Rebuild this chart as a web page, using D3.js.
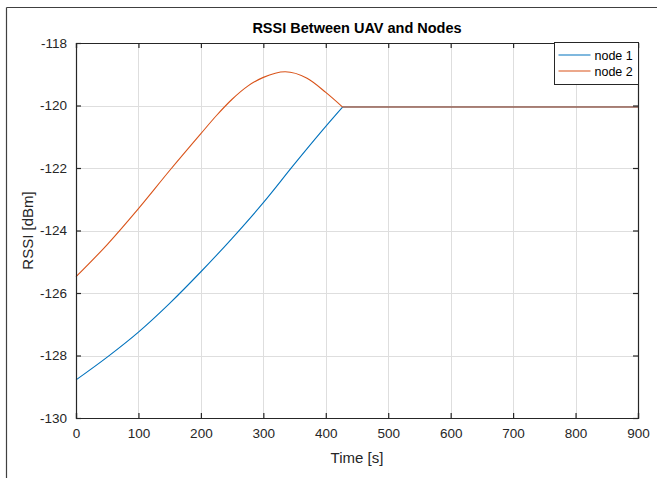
<!DOCTYPE html>
<html>
<head>
<meta charset="utf-8">
<script src="https://cdn.jsdelivr.net/npm/d3@7"></script>
<style>
  body { margin: 0; background: #fff; }
  svg { font-family: "Liberation Sans", Arial, sans-serif; }
</style>
</head>
<body>
<svg id="chart" width="657" height="478"></svg>
<script>
// series
const node1Time = [0, 50, 100, 150, 200, 250, 300, 350, 400, 427, 900];
const node1Rssi = [-128.78, -128.05, -127.25, -126.33, -125.32, -124.25, -123.11, -121.87, -120.67, -120.05, -120.05];

const node2Time = [0, 50, 100, 150, 200, 225, 250, 275, 300, 335, 370, 400, 427, 900];
const node2Rssi = [-125.48, -124.45, -123.3, -122.08, -120.9, -120.32, -119.8, -119.38, -119.1, -118.92, -119.13, -119.58, -120.05, -120.05];

// time after which both nodes sit at the same flat level
const mergeTime = 427;

const seriesNames = ["node 1", "node 2"];
const seriesColors = ["#0072BD", "#D95319"];

const xTicks = [0, 100, 200, 300, 400, 500, 600, 700, 800, 900];
const yTicks = [-130, -128, -126, -124, -122, -120, -118];

const svg = d3.select("#chart");
const margin = {left: 76, right: 638, top: 43, bottom: 418};
const axisColor = "#262626";

const x = d3.scaleLinear().domain([0, 900]).range([margin.left, margin.right]);
const y = d3.scaleLinear().domain([-130, -118]).range([margin.bottom, margin.top]);

// figure frame (left and top edges visible)
svg.append("line").attr("x1", 6.5).attr("x2", 6.5).attr("y1", 7.5).attr("y2", 478)
    .attr("stroke", "#404040").attr("stroke-width", 1.2);
svg.append("line").attr("x1", 6.5).attr("x2", 657).attr("y1", 7.5).attr("y2", 7.5)
    .attr("stroke", "#404040").attr("stroke-width", 1.2);

// grid
const grid = svg.append("g").attr("stroke", "#dedede").attr("stroke-width", 1);
grid.selectAll(".gx").data(xTicks.slice(1, -1)).join("line")
    .attr("x1", d => Math.round(x(d)) + 0.5).attr("x2", d => Math.round(x(d)) + 0.5)
    .attr("y1", margin.top).attr("y2", margin.bottom);
grid.selectAll(".gy").data(yTicks.slice(1, -1)).join("line")
    .attr("y1", d => Math.round(y(d)) + 0.5).attr("y2", d => Math.round(y(d)) + 0.5)
    .attr("x1", margin.left).attr("x2", margin.right);

// lines: smooth rising part, then a straight flat part (sharp corner at merge)
const series = [
    node1Time.map((t, i) => ({t: t, v: node1Rssi[i]})),
    node2Time.map((t, i) => ({t: t, v: node2Rssi[i]}))
];
const smooth = d3.line().x(d => x(d.t)).y(d => y(d.v)).curve(d3.curveMonotoneX);
const straight = d3.line().x(d => x(d.t)).y(d => y(d.v));
const lines = svg.append("g").attr("fill", "none").attr("stroke-width", 1.1);
series.forEach((pts, i) => {
    lines.append("path")
        .attr("d", smooth(pts.filter(p => p.t <= mergeTime)))
        .attr("stroke", seriesColors[i]);
    lines.append("path")
        .attr("d", straight(pts.filter(p => p.t >= mergeTime)))
        .attr("stroke", seriesColors[i]);
});

// axes (ticks pointing inward, box on)
const tickLen = 5;
const plainNum = d => String(d);
const xBottom = svg.append("g").attr("transform", `translate(0,${margin.bottom})`)
    .call(d3.axisBottom(x).tickValues(xTicks).tickSize(-tickLen).tickPadding(10).tickFormat(plainNum));
const xTop = svg.append("g").attr("transform", `translate(0,${margin.top})`)
    .call(d3.axisTop(x).tickValues(xTicks).tickSize(-tickLen).tickFormat(""));
const yLeft = svg.append("g").attr("transform", `translate(${margin.left},0)`)
    .call(d3.axisLeft(y).tickValues(yTicks).tickSize(-tickLen).tickPadding(9).tickFormat(plainNum));
const yRight = svg.append("g").attr("transform", `translate(${margin.right},0)`)
    .call(d3.axisRight(y).tickValues(yTicks).tickSize(-tickLen).tickFormat(""));

[xBottom, xTop, yLeft, yRight].forEach(g => {
    g.select(".domain").attr("stroke", axisColor).attr("stroke-width", 1.2);
    g.selectAll(".tick line").attr("stroke", axisColor).attr("stroke-width", 1.2);
    g.selectAll(".tick text").attr("fill", axisColor).style("font-size", "13.5px");
});

// title and labels
svg.append("text").attr("x", (margin.left + margin.right) / 2).attr("y", 33)
    .attr("text-anchor", "middle").attr("fill", "#000")
    .style("font-size", "14.5px").style("font-weight", "bold")
    .text("RSSI Between UAV and Nodes");
svg.append("text").attr("x", (margin.left + margin.right) / 2).attr("y", 463)
    .attr("text-anchor", "middle").attr("fill", axisColor)
    .style("font-size", "15px")
    .text("Time [s]");
svg.append("text").attr("transform", `translate(33,${(margin.top + margin.bottom) / 2}) rotate(-90)`)
    .attr("text-anchor", "middle").attr("fill", axisColor)
    .style("font-size", "15px")
    .text("RSSI [dBm]");

// legend
const legend = svg.append("g").attr("transform", "translate(554.5,42.5)");
legend.append("rect").attr("width", 84).attr("height", 42)
    .attr("fill", "#fff").attr("stroke", axisColor).attr("stroke-width", 1);
const item = legend.selectAll("g").data(seriesNames).join("g")
    .attr("transform", (d, i) => `translate(0,${12.5 + i * 16})`);
item.append("line").attr("x1", 4).attr("x2", 36).attr("y1", 0).attr("y2", 0)
    .attr("stroke", (d, i) => seriesColors[i]).attr("stroke-width", 1.1);
item.append("text").attr("x", 40).attr("y", 4.5)
    .attr("fill", "#000").style("font-size", "12.5px")
    .text(d => d);
</script>
</body>
</html>
